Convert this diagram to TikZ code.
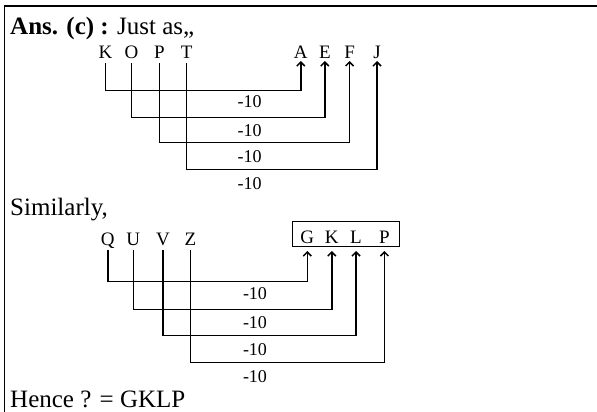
\documentclass[tikz,border=0pt]{standalone}
\usepackage{fontspec}
\setmainfont{Liberation Serif}
\usetikzlibrary{arrows.meta}

\tikzset{
  txt/.style={font=\fontsize{25}{25}\selectfont, inner sep=0pt, anchor=base west},
  ltr/.style={font=\fontsize{19}{19}\selectfont, inner sep=0pt, text depth=0pt, anchor=base},
  num/.style={font=\fontsize{18}{18}\selectfont, inner sep=0pt},
  link/.style={line width=1.5pt, -{Straight Barb[length=4pt,width=8pt]}}
}

\begin{document}
\begin{tikzpicture}[x=1pt, y=-1pt]
  \useasboundingbox (0,0) rectangle (597,412);
  \draw[line width=1.6pt] (4.6,412) -- (4.6,6) -- (597,6);
  \node[txt] (ans) at (10,35) {\textbf{Ans. (c) :} Just as,,};
  \node[txt] (sim) at (10,215) {Similarly,};
  \node[txt] (hence) at (10,407) {Hence ? = GKLP};
  % first group
  \node[ltr] (K) at (105.5,58.3) {K}; \node[ltr] (O) at (131.4,58.3) {O}; \node[ltr] (P) at (159.5,58.3) {P}; \node[ltr] (T) at (186.6,58.3) {T};
  \node[ltr] (A) at (300.8,58.3) {A}; \node[ltr] (E) at (324.8,58.3) {E}; \node[ltr] (F) at (349.6,58.3) {F}; \node[ltr] (J) at (377,58.3) {J};
  \coordinate (r1) at (0,90.7); \coordinate (r2) at (0,117.3); \coordinate (r3) at (0,142.7); \coordinate (r4) at (0,169.3);
  \draw[link] ([yshift=-5pt]K.south) -- (K |- r1) -| ([yshift=-2.5pt]A.south);
  \draw[link] ([yshift=-5pt]O.south) -- (O |- r2) -| ([yshift=-2.5pt]E.south);
  \draw[link] ([yshift=-5pt]P.south) -- (P |- r3) -| ([yshift=-2.5pt]F.south);
  \draw[link] ([yshift=-5pt]T.south) -- (T |- r4) -| ([yshift=-2.5pt]J.south);
  \node[num] (m1) at (249.5,102) {-10}; \node[num] (m2) at (249.5,131) {-10}; \node[num] (m3) at (249.5,157) {-10}; \node[num] (m4) at (249.5,184) {-10};
  % second group
  \node[ltr] (Q) at (107.8,245) {Q}; \node[ltr] (U) at (133.3,245) {U}; \node[ltr] (V) at (163,245) {V}; \node[ltr] (Z) at (190.5,245) {Z};
  \node[draw, line width=1.5pt, minimum width=106.6pt, minimum height=25pt, inner sep=0pt] (box) at (346,234.2) {};
  \node[ltr] (G) at (307.3,243.3) {G}; \node[ltr] (K2) at (331.8,243.3) {K}; \node[ltr] (L) at (356,243.3) {L}; \node[ltr] (P2) at (384.4,243.3) {P};
  \coordinate (s1) at (0,281.7); \coordinate (s2) at (0,309.3); \coordinate (s3) at (0,335.7); \coordinate (s4) at (0,362.3);
  \draw[link] ([yshift=-4.5pt]Q.south) -- (Q |- s1) -| ([yshift=-7.5pt]G.south);
  \draw[link] ([yshift=-4.5pt]U.south) -- (U |- s2) -| ([yshift=-7.5pt]K2.south);
  \draw[link] ([yshift=-4.5pt]V.south) -- (V |- s3) -| ([yshift=-7.5pt]L.south);
  \draw[link] ([yshift=-4.5pt]Z.south) -- (Z |- s4) -| ([yshift=-7.5pt]P2.south);
  \node[num] (n1) at (255,293.3) {-10}; \node[num] (n2) at (255,322.3) {-10}; \node[num] (n3) at (255,349.3) {-10}; \node[num] (n4) at (255,376.7) {-10};
\end{tikzpicture}
\end{document}
